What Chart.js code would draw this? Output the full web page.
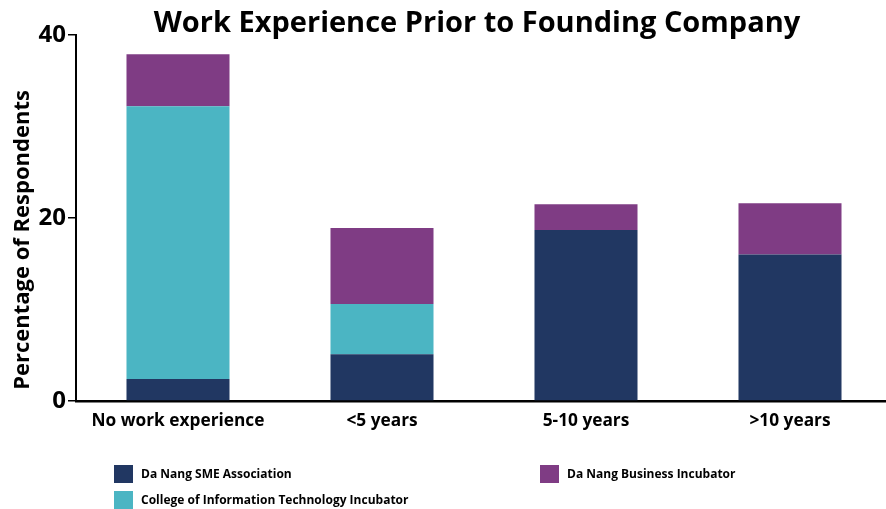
<!DOCTYPE html>
<html>
<head>
<meta charset="utf-8">
<script src="https://cdn.jsdelivr.net/npm/chart.js@4"></script>
<style>
  html, body { margin: 0; padding: 0; background: #fff; overflow: hidden; }
  #wrap { position: relative; width: 954px; height: 509px; }
  #legend {
    position: absolute; left: 114px; top: 465px;
    display: grid; grid-auto-flow: column;
    grid-template-rows: 26px 26px; grid-template-columns: 426px auto;
    font-family: "Open Sans", sans-serif; font-weight: bold; font-size: 12px; color: #000;
  }
  .item { display: flex; align-items: flex-start; }
  .box { width: 19px; height: 18px; margin-right: 8px; }
  .item span { line-height: 18px; }
</style>
</head>
<body>
<div id="wrap">
  <canvas id="grafico" width="954" height="509"></canvas>
  <div id="legend"></div>
</div>
<script>
// categorias e valores (percentual de respondentes)
let categorias = ['No work experience', '<5 years', '5-10 years', '>10 years'];
let nomesSeries = ['Da Nang SME Association', 'College of Information Technology Incubator', 'Da Nang Business Incubator'];
let valoresSME = [2.4, 5.1, 18.7, 16.0];
let valoresCIT = [29.8, 5.5, 0, 0];
let valoresIncubadora = [5.7, 8.3, 2.8, 5.6];
let coresSeries = ['#213762', '#4BB5C3', '#7F3C84'];
let ticksY = [0, 20, 40];
let titulo = 'Work Experience Prior to Founding Company';
let tituloY = 'Percentage of Respondents';

const fonte = '"Open Sans", sans-serif';

// título principal e título do eixo Y desenhados à mão
const textos = {
  id: 'textos',
  afterDraw: function (chart) {
    const c = chart.ctx;
    c.save();
    c.fillStyle = '#000';
    c.textAlign = 'center';
    c.font = 'bold 29px ' + fonte;
    c.textBaseline = 'alphabetic';
    c.fillText(titulo, 477, 32);
    c.translate(23, 240);
    c.rotate(-Math.PI / 2);
    c.font = 'bold 22px ' + fonte;
    c.textBaseline = 'middle';
    c.fillText(tituloY, 0, 0);
    c.restore();
  }
};

const ctx = document.getElementById('grafico').getContext('2d');
const grafico = new Chart(ctx, {
  type: 'bar',
  data: {
    labels: categorias,
    datasets: [valoresSME, valoresCIT, valoresIncubadora].map(function (v, i) {
      return {
        label: nomesSeries[i],
        data: v,
        backgroundColor: coresSeries[i],
        borderWidth: 0,
        barPercentage: 0.505,
        categoryPercentage: 1
      };
    })
  },
  options: {
    responsive: false,
    animation: false,
    layout: { padding: { left: 0, right: 62, top: 35, bottom: 78 } },
    plugins: {
      legend: { display: false },
      tooltip: { enabled: false },
      title: { display: false }
    },
    scales: {
      x: {
        stacked: true,
        grid: { display: false, drawTicks: false },
        border: { color: '#000', width: 2.5 },
        ticks: { color: '#000', padding: 10, font: { family: fonte, size: 17.3, weight: 'bold' } },
        afterFit: function (s) { s.height = 30; }
      },
      y: {
        stacked: true,
        min: 0,
        max: 40,
        afterBuildTicks: function (s) { s.ticks = ticksY.map(function (v) { return { value: v }; }); },
        grid: { drawOnChartArea: false, color: '#000', lineWidth: 1.5, tickLength: 8 },
        border: { color: '#000', width: 2 },
        ticks: { color: '#000', padding: 2, font: { family: fonte, size: 24, weight: 'bold' } },
        afterFit: function (s) { s.width = 76; }
      }
    }
  },
  plugins: [textos]
});

// legenda montada a partir dos datasets
const legenda = document.getElementById('legend');
grafico.data.datasets.forEach(function (ds) {
  const item = document.createElement('div');
  item.className = 'item';
  item.innerHTML = '<div class="box" style="background:' + ds.backgroundColor + '"></div><span></span>';
  item.querySelector('span').textContent = ds.label;
  legenda.appendChild(item);
});
</script>
</body>
</html>
